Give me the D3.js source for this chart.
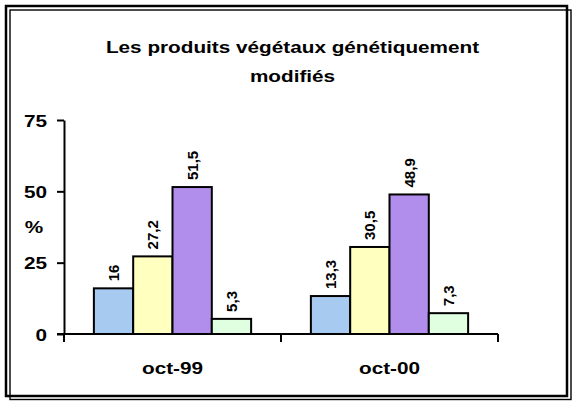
<!DOCTYPE html>
<html><head><meta charset="utf-8">
<script src="https://cdn.jsdelivr.net/npm/d3@7"></script>
<style>
html,body{margin:0;padding:0;background:#fff;}
svg{display:block;}
text{font-family:"Liberation Sans",Arial,sans-serif;font-weight:bold;fill:#000;}
</style></head>
<body>
<svg id="c" width="574" height="401"></svg>
<script>
const title = ["Les produits végétaux génétiquement", "modifiés"];
const categories = ["oct-99", "oct-00"];
const seriesNames = ["s1", "s2", "s3", "s4"];
const seriesColors = ["#a6caf0", "#ffffc0", "#b18eeb", "#e0ffe0"];
const values = [
  [16, 27.2, 51.5, 5.3],
  [13.3, 30.5, 48.9, 7.3]
];
const yTicks = [0, 25, 50, 75];
const yTitle = "%";

const svg = d3.select("#c");
const SX = 1.22;
const fmt = v => String(v).replace(".", ",");

// frame: two offset rectangles
const frame = svg.append("g").attr("fill", "none").attr("stroke", "#000");
frame.append("rect").attr("x", 6).attr("y", 6).attr("width", 561).attr("height", 390).attr("stroke-width", 2.5);
frame.append("rect").attr("x", 10).attr("y", 10).attr("width", 561).attr("height", 389.5).attr("stroke-width", 1.4);

// title
title.forEach((t, i) => {
  svg.append("text")
    .attr("transform", `translate(292.5,${[53, 81.5][i]}) scale(${SX},1)`)
    .attr("text-anchor", "middle")
    .style("font-size", "17px")
    .text(t);
});

const x0 = d3.scaleBand().domain(categories).range([64, 498]).paddingInner(0).paddingOuter(0);
const x1 = d3.scaleBand().domain(seriesNames).range([0, x0.bandwidth()]).paddingInner(0).paddingOuter(0.76);
const y = d3.scaleLinear().domain([0, 75]).range([334, 120]);

// bars
const groups = svg.append("g").selectAll("g").data(categories).join("g")
  .attr("transform", d => `translate(${x0(d)},0)`);
groups.selectAll("rect").data((d, i) => values[i].map((v, j) => ({v, j})))
  .join("rect")
  .attr("x", d => x1(seriesNames[d.j]))
  .attr("y", d => y(d.v))
  .attr("width", x1.bandwidth())
  .attr("height", d => y(0) - y(d.v))
  .attr("fill", d => seriesColors[d.j])
  .attr("stroke", "#000").attr("stroke-width", 2);

// value labels
groups.selectAll("text.val").data((d, i) => values[i].map((v, j) => ({v, j})))
  .join("text").attr("class", "val")
  .attr("transform", d => `translate(${x1(seriesNames[d.j]) + x1.bandwidth() / 2},${y(d.v) - 7}) rotate(-90)`)
  .attr("dy", "0.36em")
  .attr("text-anchor", "start")
  .style("font-size", "15px")
  .text(d => fmt(d.v));

// y axis
const yAxis = svg.append("g").attr("transform", "translate(64,0)")
  .call(d3.axisLeft(y).tickValues(yTicks).tickSize(7).tickSizeOuter(0));
yAxis.select(".domain").attr("stroke-width", 2);
yAxis.selectAll(".tick line").attr("stroke-width", 2);
yAxis.selectAll(".tick text")
  .attr("x", null).attr("dy", "0.36em")
  .attr("transform", `translate(-17,0) scale(${SX},1)`)
  .style("font-size", "17px").style("font-family", "'Liberation Sans',Arial,sans-serif").style("font-weight", "bold");
yAxis.attr("font-size", null).attr("font-family", null);

svg.append("text")
  .attr("transform", `translate(34,232.5) scale(${SX},1)`)
  .attr("text-anchor", "middle")
  .style("font-size", "17px")
  .text(yTitle);

// x axis
const xg = svg.append("g");
xg.append("line").attr("x1", 57).attr("x2", x0.range()[1]).attr("y1", y(0)).attr("y2", y(0))
  .attr("stroke", "#000").attr("stroke-width", 2);
const bounds = categories.map(c => x0(c)).concat([x0(categories[categories.length - 1]) + x0.bandwidth()]);
xg.selectAll("line.t").data(bounds).join("line").attr("class", "t")
  .attr("x1", d => d).attr("x2", d => d).attr("y1", y(0)).attr("y2", y(0) + 8)
  .attr("stroke", "#000").attr("stroke-width", 2);
xg.selectAll("text").data(categories).join("text")
  .attr("transform", d => `translate(${x0(d) + x0.bandwidth() / 2},374) scale(${SX},1)`)
  .attr("text-anchor", "middle")
  .style("font-size", "17px")
  .text(d => d);
</script>
</body></html>
